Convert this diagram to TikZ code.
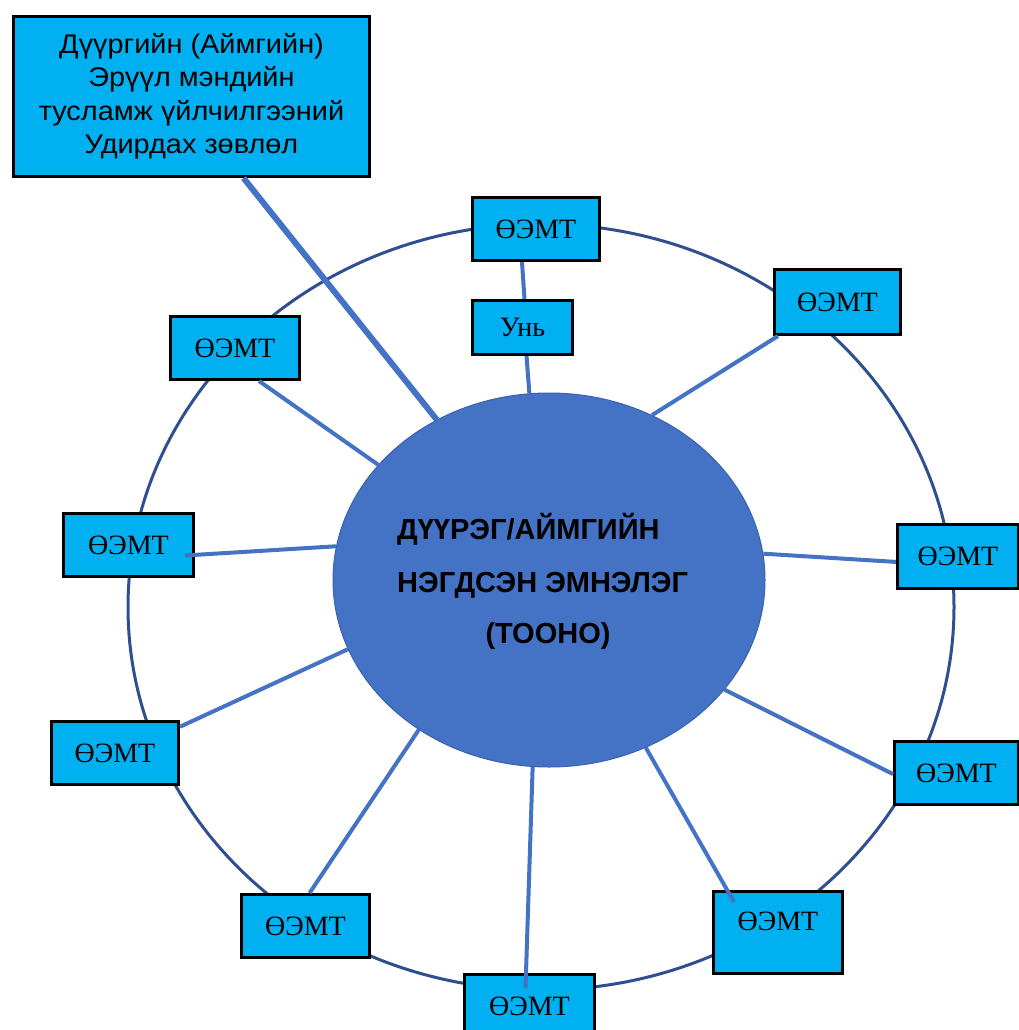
\documentclass[tikz,border=0pt]{standalone}
\usepackage{fontspec}
\setmainfont{Liberation Serif}
\newfontfamily\sansf{Liberation Sans}
\newfontfamily\sansw{Liberation Sans}[FakeStretch=1.07]
\usetikzlibrary{shapes.geometric}
\definecolor{boxblue}{HTML}{00B0F0}
\definecolor{spokeblue}{HTML}{4472C4}
\definecolor{ringblue}{HTML}{2F4F8F}
\definecolor{hubedge}{HTML}{3A62AE}
\pgfdeclarelayer{bg}
\pgfdeclarelayer{fg}
\pgfsetlayers{bg,main,fg}
\begin{document}
\begin{tikzpicture}[x=1pt,y=-1pt,
  boxbase/.style={draw=black, line width=3pt, fill=boxblue, inner sep=0pt, anchor=north west, text=black},
  unit/.style={boxbase, font=\fontsize{28}{30}\selectfont, text height=18.5pt, text depth=0pt},
  spoke/.style={draw=spokeblue, line width=4pt},
  ring/.style={draw=ringblue, line width=3pt},
  hub/.style={ellipse, fill=spokeblue, draw=hubedge, line width=1pt, minimum width=432pt, minimum height=374pt, inner sep=0pt},
  hubtext/.style={font=\sansf\bfseries\fontsize{29}{30}\selectfont, inner sep=0pt, text=black}
]
\useasboundingbox (0,0) rectangle (1018,1030);

% ring
\begin{pgfonlayer}{bg}
  \draw[ring] (541,607) ellipse [x radius=413pt, y radius=383pt];
\end{pgfonlayer}

% central hospital
\begin{pgfonlayer}{fg}
  \node[hub] (E) at (549,580) {};
  \node[hubtext, anchor=base west] (E1) at (397,539) {ДҮҮРЭГ/АЙМГИЙН};
  \node[hubtext, anchor=base west] (E2) at (397,592) {НЭГДСЭН ЭМНЭЛЭГ};
  \node[hubtext, anchor=base] (E3) at (548,643) {(ТООНО)};
\end{pgfonlayer}

% boxes
\node[boxbase, minimum width=356pt, minimum height=160pt, align=center,
      font=\sansw\fontsize{27}{33.5}\selectfont] (TL) at (12,15)
  {Дүүргийн (Аймгийн)\\Эрүүл мэндийн\\тусламж үйлчилгээний\\Удирдах зөвлөл};
\node[unit, minimum width=127pt, minimum height=63pt] (T)  at (471,196) {ӨЭМТ};
\node[unit, minimum width=100pt, minimum height=54pt] (U)  at (471,299) {Унь};
\node[unit, minimum width=126pt, minimum height=65pt] (TR) at (773,268) {ӨЭМТ};
\node[unit, minimum width=129pt, minimum height=63pt] (LU) at (169,315) {ӨЭМТ};
\node[unit, minimum width=130pt, minimum height=63pt] (L)  at (62,512)  {ӨЭМТ};
\node[unit, minimum width=121pt, minimum height=64pt] (R)  at (896,523) {ӨЭМТ};
\node[unit, minimum width=127pt, minimum height=63pt] (LL) at (50,720)  {ӨЭМТ};
\node[unit, minimum width=124pt, minimum height=63pt] (RL) at (893,740) {ӨЭМТ};
\node[unit, minimum width=128pt, minimum height=63pt] (BL) at (240,893) {ӨЭМТ};
\node[unit, minimum width=129pt, minimum height=82pt, text depth=22pt] (BR) at (712,890) {ӨЭМТ};
\node[unit, minimum width=130pt, minimum height=63pt] (B)  at (463,973) {ӨЭМТ};

% connectors
\draw[draw=spokeblue, line width=6pt] ([xshift=52pt]TL.south) -- (E.125);
\draw[spoke] (T.-113) -- (U.86);
\draw[spoke] (U.-82) -- (E.96);
\draw[spoke] ([xshift=5pt]TR.south west) -- (E.58);
\draw[spoke] (R.185) -- (E.7);
\draw[spoke] (RL.181) -- (E.328);
\draw[spoke] ([xshift=22pt,yshift=-12pt]BR.north west) -- (E.300);
\draw[spoke] ([xshift=-4pt,yshift=-15pt]B.north) -- (E.265);
\draw[spoke] (BL.83) -- (E.229);
\draw[spoke] (LL.22) -- (E.199);
\draw[spoke] ([xshift=-10pt,yshift=-10.5pt]L.east) -- (E.171);
\draw[spoke] (LU.-54) -- (E.146);
\end{tikzpicture}
\end{document}
